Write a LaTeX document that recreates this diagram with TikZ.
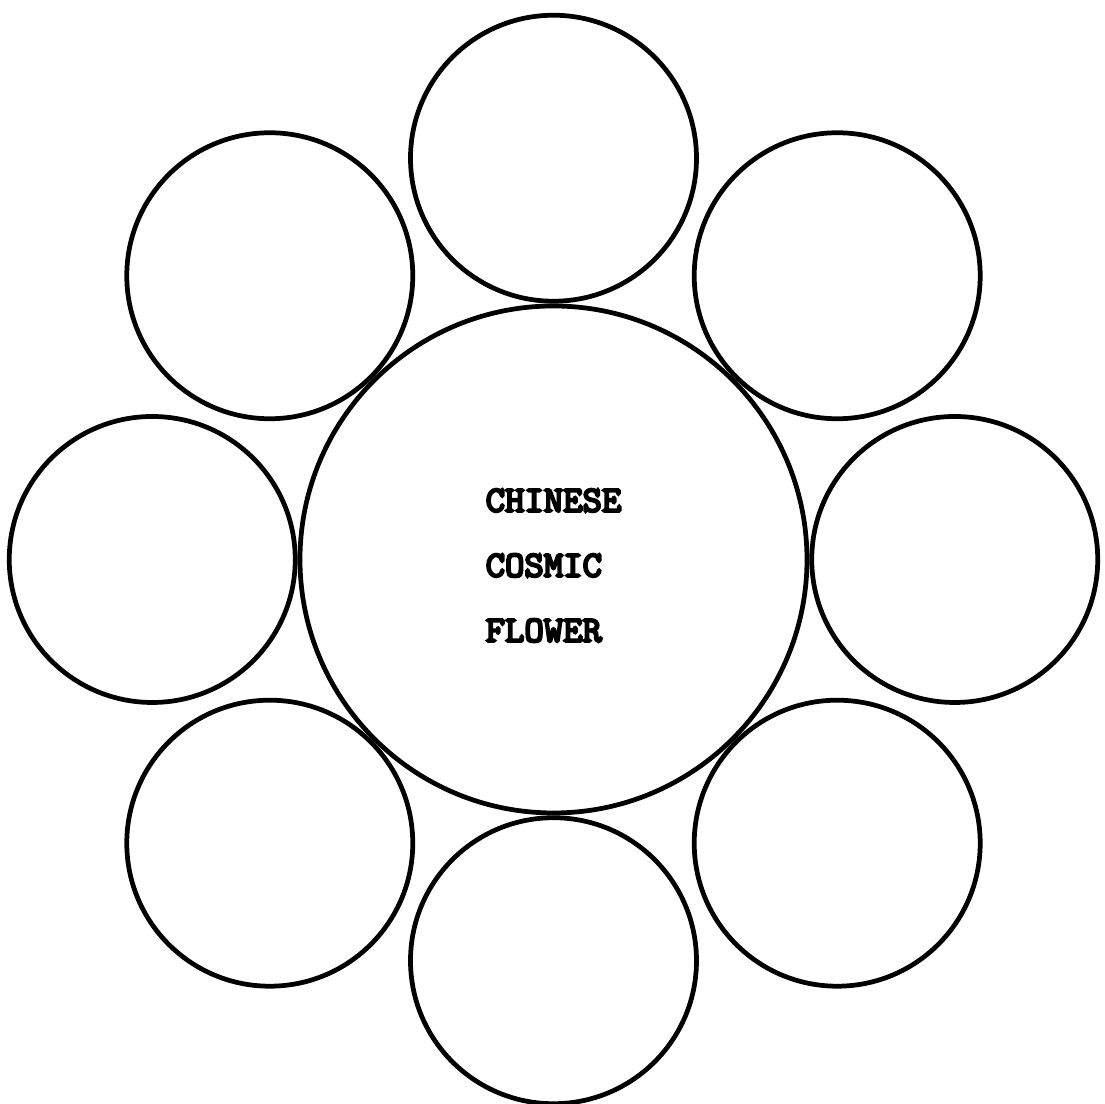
\documentclass[tikz,border=0pt]{standalone}
\usepackage{fontspec}
\usepackage{tikz}
\usetikzlibrary{positioning}
\newfontfamily\typewriter{lmmono10-regular.otf}[FakeBold=6]

\begin{document}
\begin{tikzpicture}[line width=1.35pt,
  core/.style={circle, draw, minimum size=5.07cm},
  petal/.style={circle, draw, minimum size=2.86cm},
  words/.style={align=left, inner sep=0pt, font=\typewriter\bfseries\fontsize{10.5}{18.5}\selectfont}]
  \useasboundingbox (-5.535,-5.445) rectangle (5.515,5.595);
  \node [core] (C) {};
  \node [petal, above=0pt of C] (P1) {};
  \node [petal, above right=0pt of C] (P2) {};
  \node [petal, right=0pt of C] (P3) {};
  \node [petal, below right=0pt of C] (P4) {};
  \node [petal, below=0pt of C] (P5) {};
  \node [petal, below left=0pt of C] (P6) {};
  \node [petal, left=0pt of C] (P7) {};
  \node [petal, above left=0pt of C] (P8) {};

  \node [words, yshift=-0.06cm] (T) at (C) {CHINESE\\COSMIC\\FLOWER};
\end{tikzpicture}
\end{document}
